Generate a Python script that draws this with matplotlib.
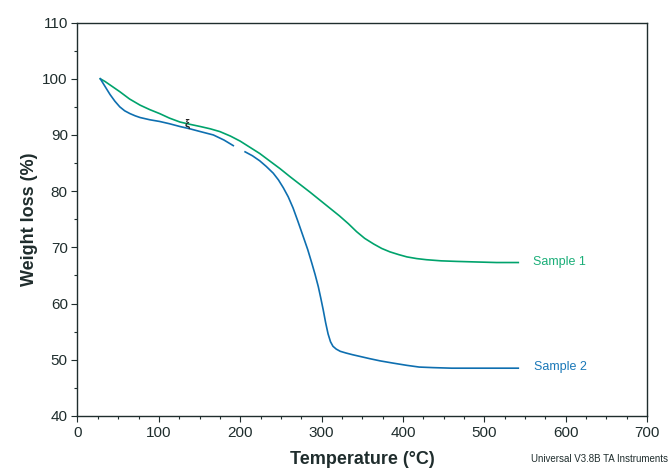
import matplotlib
matplotlib.use('Agg')
import matplotlib.pyplot as plt
from matplotlib.ticker import MultipleLocator

plt.rcParams['font.family'] = ['Liberation Sans', 'DejaVu Sans']

# Sample 1 (green)
s1_temp = [28, 34, 40, 46, 52, 64, 77, 89, 101, 113, 126, 138, 151, 163, 175, 188,
           200, 212, 224, 236, 249, 261, 273.5, 286, 298, 310, 322, 333, 343, 353,
           364, 374, 384, 395, 405, 417, 429, 447, 466, 490, 515, 541.8]
s1_wt = [100, 99.5, 98.9, 98.3, 97.7, 96.4, 95.3, 94.5, 93.8, 93.0, 92.3, 91.9, 91.5,
         91.1, 90.6, 89.8, 88.9, 87.8, 86.7, 85.4, 84.0, 82.6, 81.2, 79.8, 78.4, 77.0,
         75.6, 74.2, 72.8, 71.6, 70.6, 69.8, 69.2, 68.7, 68.3, 68.0, 67.8, 67.6, 67.5,
         67.4, 67.3, 67.3]

# Sample 2 (blue), recorded in two pieces
s2a_temp = [28, 34, 40, 46, 52, 58, 64.5, 71, 77, 89, 101, 113, 126, 138, 151, 167,
            180, 191.5]
s2a_wt = [100, 98.6, 97.2, 96.0, 95.0, 94.3, 93.8, 93.4, 93.1, 92.7, 92.4, 92.0,
          91.5, 91.1, 90.6, 90.0, 89.1, 88.1]
s2b_temp = [206, 215, 224, 232, 240.6, 247, 253, 259, 265, 271, 277.5, 283, 288, 292,
            296, 299, 302, 305, 308, 311, 314, 318, 323, 330, 338, 347, 359, 372, 388,
            405, 420, 437, 460, 486, 541.8]
s2b_wt = [87.0, 86.3, 85.4, 84.4, 83.2, 82.0, 80.6, 79.0, 77.0, 74.6, 71.9, 69.6, 67.2,
          65.2, 63.0, 61.0, 58.9, 56.6, 54.6, 53.2, 52.4, 51.9, 51.5, 51.2, 50.9, 50.6,
          50.2, 49.8, 49.4, 49.0, 48.7, 48.6, 48.5, 48.5, 48.5]

green = '#00a36c'
blue = '#0e6fb0'
dark = '#1f2d2d'

fig = plt.figure(figsize=(6.72, 4.70), dpi=100)
ax = fig.add_axes([0.1153, 0.115, 0.8475, 0.837])

ax.plot(s1_temp, s1_wt, color=green, lw=1.2)
ax.plot(s2a_temp, s2a_wt, color=blue, lw=1.2)
ax.plot(s2b_temp, s2b_wt, color=blue, lw=1.2)

ax.text(560, 67.4, 'Sample 1', color='#1aae78', fontsize=9, va='center', ha='left')
ax.text(561, 48.7, 'Sample 2', color='#1a78b8', fontsize=9, va='center', ha='left')
ax.text(134.6, 91.9, 'ξ', color='#222222', fontsize=8, fontweight='bold',
        ha='center', va='center')

ax.set_xlim(0, 700)
ax.set_ylim(40, 110)
ax.xaxis.set_major_locator(MultipleLocator(100))
ax.xaxis.set_minor_locator(MultipleLocator(25))
ax.yaxis.set_major_locator(MultipleLocator(10))
ax.yaxis.set_minor_locator(MultipleLocator(5))
ax.tick_params(which='major', direction='out', length=4, width=0.8, color=dark,
               labelsize=11, labelcolor=dark, pad=3)
ax.tick_params(which='minor', direction='out', length=2, width=0.8, color=dark)
for s in ax.spines.values():
    s.set_color(dark)
    s.set_linewidth(1.0)

ax.set_xlabel('Temperature (°C)', fontsize=13, fontweight='bold', color=dark, labelpad=8)
ax.set_ylabel('Weight loss (%)', fontsize=13, fontweight='bold', color=dark, labelpad=3)

fig.text(0.994, 0.012, 'Universal V3.8B TA Instruments', fontsize=7, color=dark,
         ha='right', va='bottom')

fig.savefig('out.png', dpi=100)
